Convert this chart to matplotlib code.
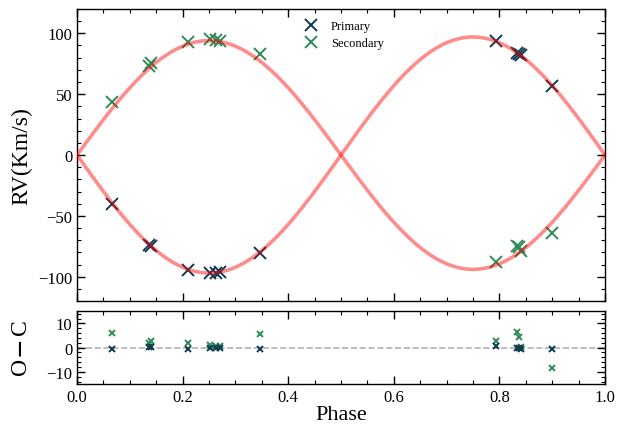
import numpy as np
import matplotlib
matplotlib.use("Agg")
import matplotlib.pyplot as plt
from matplotlib.ticker import MultipleLocator

plt.rcParams['font.family'] = ['Liberation Serif', 'DejaVu Serif']
plt.rcParams['mathtext.fontset'] = 'stix'

# observed phases (same epochs for both components)
phase = [0.066, 0.137, 0.141, 0.211, 0.252, 0.263, 0.270, 0.347,
         0.794, 0.834, 0.837, 0.840, 0.899]

rv_pri = [-40.0, -73.6, -74.7, -94.5, -97.0, -96.9, -96.2, -80.3,
          94.1, 83.6, 83.0, 82.3, 57.1]
rv_sec = [43.7, 73.4, 75.7, 93.0, 95.2, 94.5, 94.1, 82.8,
          -88.0, -74.4, -75.5, -79.2, -64.5]

oc_pri = [-0.7, 0.3, 0.4, -0.4, 0.0, -0.2, 0.0, -0.7,
          0.6, -0.3, 0.0, -0.4, -0.4]
oc_sec = [6.0, 1.8, 2.9, 1.8, 1.2, 0.8, 0.8, 5.6,
          2.6, 6.6, 4.2, 0.3, -8.2]

# fitted semi-amplitudes (circular orbit model)
K1 = 97.0
K2 = 94.0

c_pri = "#0f3a50"
c_sec = "#2e8b57"

ph = np.linspace(0, 1, 500)
model_pri = -K1 * np.sin(2 * np.pi * ph)
model_sec = K2 * np.sin(2 * np.pi * ph)

fig = plt.figure(figsize=(6.18, 4.27), dpi=100)
ax1 = fig.add_axes([0.1246, 0.2927, 0.8544, 0.6839])
ax2 = fig.add_axes([0.1246, 0.0984, 0.8544, 0.1702])

ax1.plot(phase, rv_pri, "x", color=c_pri, ms=9, mew=1.4, label="Primary", zorder=2)
ax1.plot(phase, rv_sec, "x", color=c_sec, ms=9, mew=1.4, label="Secondary", zorder=2)
ax1.plot(ph, model_pri, color="red", alpha=0.45, lw=2.6, zorder=3)
ax1.plot(ph, model_sec, color="red", alpha=0.45, lw=2.6, zorder=3)

ax1.set_xlim(0, 1)
ax1.set_ylim(-120, 120)
ax1.set_ylabel("RV(Km/s)", fontsize=17)
ax1.tick_params(labelbottom=False)
ax1.yaxis.set_major_locator(MultipleLocator(50))
ax1.yaxis.set_minor_locator(MultipleLocator(10))
ax1.legend(loc="upper center", frameon=False, fontsize=9, handletextpad=0.6,
           borderaxespad=0.5, labelspacing=0.4)

ax2.axhline(0, color="grey", ls="--", lw=1.2, alpha=0.6, zorder=1)
ax2.plot(phase, oc_pri, "x", color=c_pri, ms=5, mew=1.4, zorder=3)
ax2.plot(phase, oc_sec, "x", color=c_sec, ms=5, mew=1.4, zorder=2)
ax2.set_xlim(0, 1)
ax2.set_ylim(-15, 15)
ax2.set_xlabel("Phase", fontsize=16, labelpad=0)
ax2.set_ylabel(r"O$\,\mathbf{-}\,$C", fontsize=17)
ax2.yaxis.set_major_locator(MultipleLocator(10))
ax2.yaxis.set_minor_locator(MultipleLocator(2))

for ax in (ax1, ax2):
    ax.xaxis.set_major_locator(MultipleLocator(0.2))
    ax.xaxis.set_minor_locator(MultipleLocator(0.05))
    ax.tick_params(which="both", direction="in", top=True, right=True, labelsize=12)
    ax.tick_params(which="major", length=6, width=1)
    ax.tick_params(which="minor", length=3, width=0.8)
    for s in ax.spines.values():
        s.set_linewidth(1.0)

ax1.yaxis.set_label_coords(-0.085, 0.5)
ax2.yaxis.set_label_coords(-0.085, 0.5)

fig.savefig("out.png", dpi=100)
